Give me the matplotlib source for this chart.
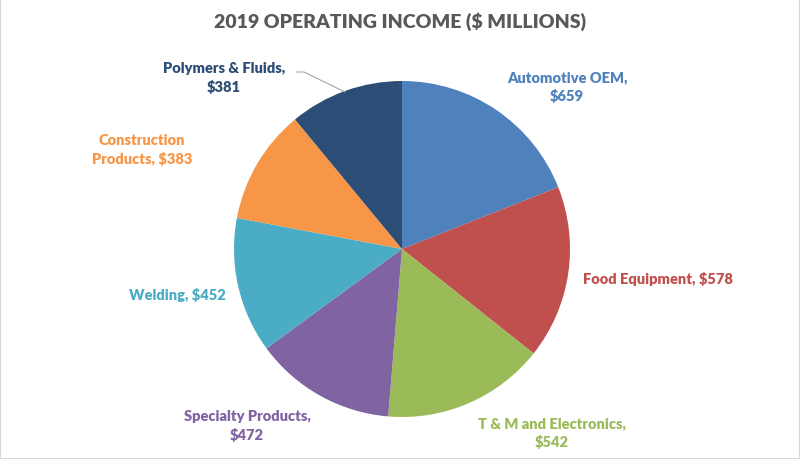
import matplotlib.pyplot as plt
from matplotlib.patches import Rectangle

plt.rcParams['font.family'] = ['Lato', 'DejaVu Sans']

# data
segments = ['Automotive OEM', 'Food Equipment', 'T & M and Electronics',
            'Specialty Products', 'Welding', 'Construction Products',
            'Polymers & Fluids']
income = [659, 578, 542, 472, 452, 383, 381]
label_text = ['Automotive OEM,\n$659', 'Food Equipment, $578',
              'T & M and Electronics,\n$542', 'Specialty Products,\n$472',
              'Welding, $452', 'Construction\nProducts, $383',
              'Polymers & Fluids,\n$381']
colors = ['#4F81BD', '#C0504D', '#9BBB59', '#8064A2', '#4BACC6',
          '#F79646', '#2C4D75']

# label centres in pixel coords (from top-left)
label_pos = [(567, 87), (658, 279), (552, 433), (247, 426),
             (177, 295), (142, 150), (224, 78)]

W, H = 800, 460
fig = plt.figure(figsize=(W / 100, H / 100), dpi=100)
ax = fig.add_axes([0, 0, 1, 1])

ax.pie(income, colors=colors, startangle=90, counterclock=False,
       center=(402, H - 250), radius=168, frame=True,
       wedgeprops=dict(linewidth=0))
ax.set_xlim(0, W)
ax.set_ylim(0, H)
ax.set_aspect('equal')
ax.axis('off')

for txt, (x, y), c in zip(label_text, label_pos, colors):
    ax.text(x, H - y, txt, ha='center', va='center', color=c,
            fontsize=10.5, fontweight='heavy', linespacing=1.45)

# leader line for Polymers & Fluids
ax.plot([297, 304, 345], [H - 73, H - 73, H - 93], color='#A6A6A6', lw=0.8)

ax.text(400, H - 22, '2019 OPERATING INCOME ($ MILLIONS)', ha='center',
        va='center', fontsize=14, fontweight='heavy', color='#595959')

# outer border
fig.patches.append(Rectangle((0, 0), 1, 1, transform=fig.transFigure,
                             fill=False, edgecolor='#D9D9D9', lw=1.5))

fig.savefig('out.png', dpi=100)
